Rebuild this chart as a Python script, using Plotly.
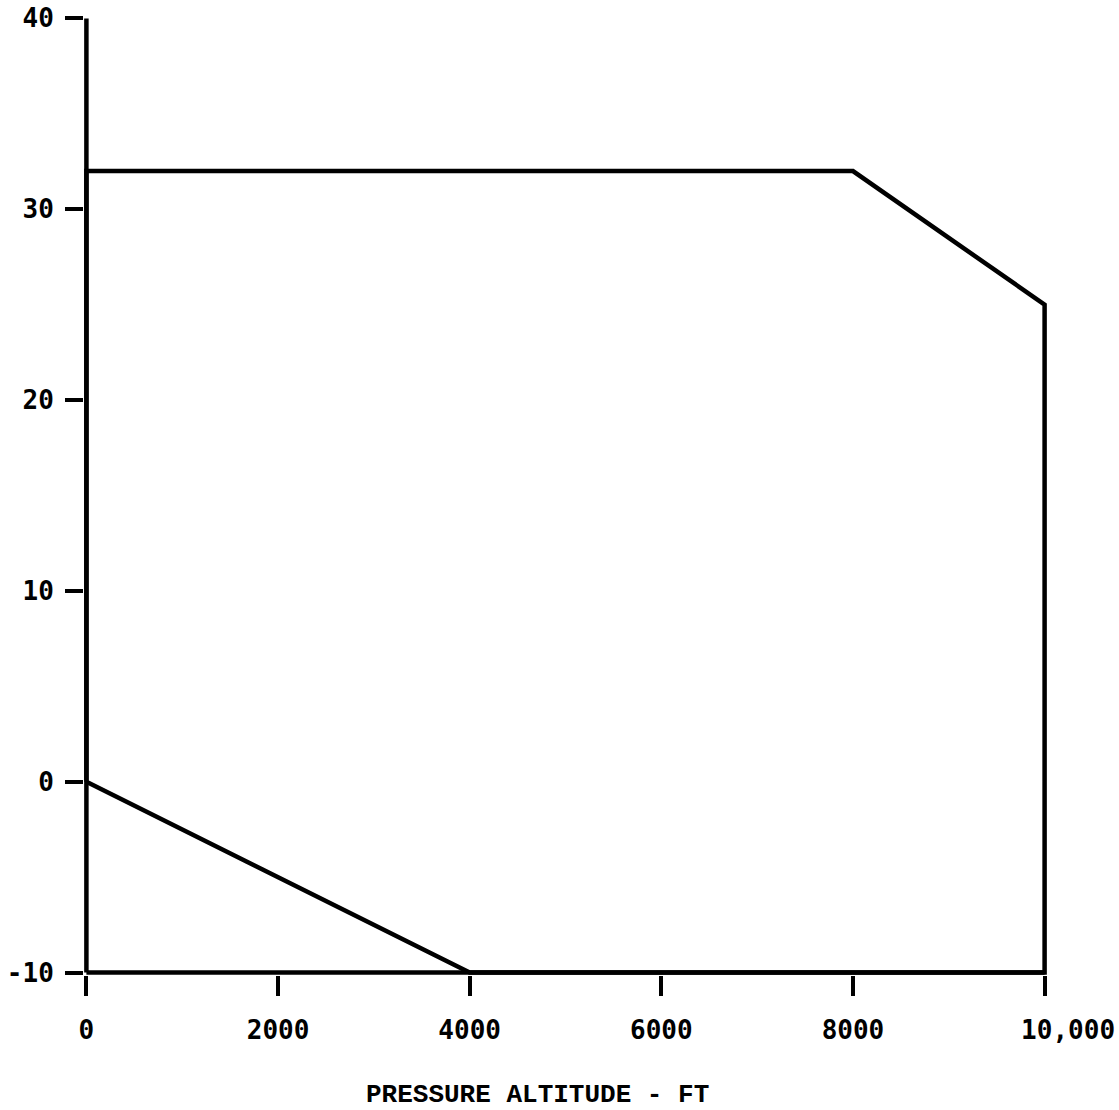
import plotly.graph_objects as go

# Operating envelope: pressure altitude (ft) vs temperature
altitude_ft = [0, 0, 8000, 10000, 10000, 4000, 0]
temperature = [0, 32, 32, 25, -10, -10, 0]

x_min, x_max = 0, 10000
y_min, y_max = -10, 40
x_ticks = [0, 2000, 4000, 6000, 8000, 10000]
# the last label sits a little to the right of its tick
x_tick_text = ["0", "2000", "4000", "6000", "8000", "\u00a0\u00a0\u00a010,000"]
y_ticks = [-10, 0, 10, 20, 30, 40]
y_tick_text = ["-10", "0", "10", "20", "30", "40"]

# small padding so the heavy edge lines are not cut in half by the plot clip
x_pad = 25
y_pad = 0.125

tick_font = dict(family="DejaVu Sans Mono", size=26, color="black", weight="bold")
line_style = dict(color="black", width=4.5)

fig = go.Figure()
fig.add_trace(go.Scatter(
    x=altitude_ft, y=temperature, mode="lines",
    line=line_style, showlegend=False, hoverinfo="skip",
))

# axis frame lines along the left and bottom of the chart
fig.add_shape(type="line", xref="x", yref="y",
              x0=x_min, x1=x_min, y0=y_min, y1=y_max, line=line_style)
fig.add_shape(type="line", xref="x", yref="y",
              x0=x_min, x1=x_max, y0=y_min, y1=y_min, line=line_style)

fig.update_xaxes(
    range=[x_min - x_pad, x_max + x_pad], tickvals=x_ticks, ticktext=x_tick_text,
    showgrid=False, zeroline=False, showline=False, automargin=False,
    ticks="outside", ticklen=20, tickwidth=4, tickcolor="black",
    ticklabelstandoff=12,
    tickfont=tick_font,
)
fig.update_yaxes(
    range=[y_min - y_pad, y_max + y_pad], tickvals=y_ticks, ticktext=y_tick_text,
    showgrid=False, zeroline=False, showline=False, automargin=False,
    ticks="outside", ticklen=18, tickwidth=4, tickcolor="black",
    ticklabelstandoff=6,
    tickfont=tick_font,
)

fig.add_annotation(
    text="PRESSURE ALTITUDE - FT", xref="paper", yref="paper",
    x=0.471, y=-0.125, xanchor="center", yanchor="middle", showarrow=False,
    font=dict(family="Liberation Mono", size=26, color="black", weight="bold"),
)

fig.update_layout(
    width=1119, height=1110,
    margin=dict(l=84, r=72, t=16, b=135),
    paper_bgcolor="white", plot_bgcolor="white",
)

fig.write_html("out.html")
